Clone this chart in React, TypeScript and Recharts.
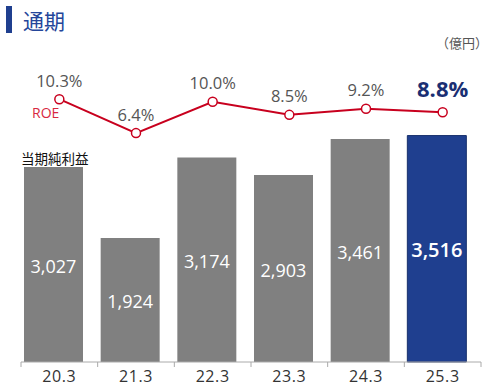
import React from "react";
import { ComposedChart, Bar, Line, XAxis, YAxis, Cell, LabelList, Rectangle } from "recharts";

const periods = ["20.3", "21.3", "22.3", "23.3", "24.3", "25.3"];
const netIncome = [3027, 1924, 3174, 2903, 3461, 3516];
const roe = [10.3, 6.4, 10.0, 8.5, 9.2, 8.8];

const data = periods.map((p, i) => ({ period: p, income: netIncome[i], roe: roe[i] }));

const W = 492;
const H = 388;
const M = { top: 40, right: 11, left: 21, bottom: 0 };
const AXIS_H = 26;
const BASE_Y = H - AXIS_H;
const BAND = (W - M.left - M.right) / periods.length;
const SHIFT = -6;
const LAST = periods.length - 1;

const NUM_FONT = "'Open Sans', 'Noto Sans', sans-serif";
const JP_FONT = "'Noto Sans CJK JP', 'Noto Sans', sans-serif";
const RED = "#c8001e";
const NAVY = "#1f3f8f";

const fmt = (v: number) => v.toLocaleString("en-US");

const ShiftedBar = (props: any) => <Rectangle {...props} x={props.x + SHIFT} />;

const PeriodTick = (props: any) => {
  const { x, payload, index } = props;
  return (
    <g>
      <line x1={x - BAND / 2} x2={x - BAND / 2} y1={BASE_Y} y2={BASE_Y + 5} stroke="#aaa" />
      {index === LAST && <line x1={x + BAND / 2} x2={x + BAND / 2} y1={BASE_Y} y2={BASE_Y + 5} stroke="#aaa" />}
      <text x={x} y={BASE_Y + 20} textAnchor="middle" fontSize={16} letterSpacing={0.6} fill="#333" fontFamily={NUM_FONT}>
        {payload.value}
      </text>
    </g>
  );
};

const RoeLabel = (props: any) => {
  const { x, y, value, index } = props;
  const last = index === LAST;
  return (
    <text
      x={x}
      y={y - (last ? 24 : 19)}
      textAnchor="middle"
      dominantBaseline="central"
      fontSize={last ? 22 : 16.5}
      fontWeight={last ? 700 : 400}
      fill={last ? "#1a2f73" : "#555"}
      fontFamily={NUM_FONT}
    >
      {value.toFixed(1)}%
    </text>
  );
};

const IncomeLabel = (props: any) => {
  const { x, y, width, height, value, index } = props;
  const last = index === LAST;
  return (
    <text
      x={x + SHIFT + width / 2}
      y={y + height / 2 + 1}
      textAnchor="middle"
      dominantBaseline="central"
      fontSize={last ? 20 : 18}
      fontWeight={last ? 600 : 400}
      fill="#fff"
      fontFamily={NUM_FONT}
    >
      {fmt(value)}
    </text>
  );
};

const App = () => (
  <div style={{ position: "absolute", left: 0, top: 0, width: W, height: H, overflow: "visible", background: "#fff" }}>
    <div style={{ position: "absolute", left: 6, top: 6, width: 6, height: 27, background: NAVY }} />
    <div style={{ position: "absolute", left: 23, top: 5, fontSize: 21, lineHeight: "30px", color: "#24469a", fontFamily: JP_FONT }}>
      通期
    </div>
    <div style={{ position: "absolute", left: 436, top: 34, fontSize: 13, lineHeight: "18px", color: "#555", fontFamily: JP_FONT }}>
      （億円）
    </div>
    <div style={{ position: "absolute", left: 32, top: 103, fontSize: 14, lineHeight: "20px", color: "#d8283f", fontFamily: NUM_FONT }}>
      ROE
    </div>
    <div style={{ position: "absolute", left: 21, top: 148, fontSize: 13.5, lineHeight: "20px", color: "#111", fontFamily: JP_FONT }}>
      当期純利益
    </div>
    <div style={{ position: "absolute", left: 0, top: 0 }}>
      <ComposedChart width={W} height={H} data={data} margin={M} style={{ overflow: "visible" }}>
        <XAxis dataKey="period" height={AXIS_H} axisLine={{ stroke: "#aaa" }} tickLine={false} tick={<PeriodTick />} interval={0} />
        <YAxis yAxisId="amt" domain={[0, 5000]} hide />
        <YAxis yAxisId="roe" domain={[-19.9, 17.1]} hide />
        <Bar yAxisId="amt" dataKey="income" barSize={59} shape={<ShiftedBar />} isAnimationActive={false}>
          {data.map((d, i) => (
            <Cell key={d.period} fill={i === LAST ? NAVY : "#808080"} stroke={i === LAST ? "#172f6c" : "none"} />
          ))}
          <LabelList dataKey="income" content={<IncomeLabel />} />
        </Bar>
        <Line
          yAxisId="roe"
          dataKey="roe"
          stroke={RED}
          strokeWidth={2}
          dot={{ r: 4.5, fill: "#fff", stroke: RED, strokeWidth: 1.5 }}
          isAnimationActive={false}
        >
          <LabelList dataKey="roe" content={<RoeLabel />} />
        </Line>
      </ComposedChart>
    </div>
  </div>
);

export default App;
